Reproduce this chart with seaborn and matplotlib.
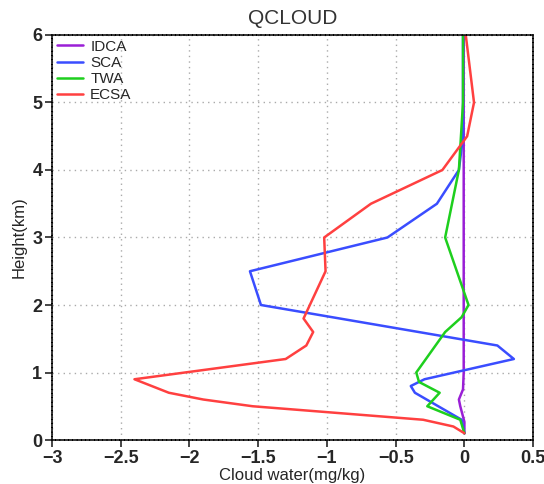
import matplotlib
matplotlib.use("Agg")
import matplotlib.pyplot as plt
import seaborn as sns
import pandas as pd

# Vertical profiles of cloud water difference (mg/kg) against height (km)
idca_h = [0.1, 0.27, 0.5, 0.6, 0.75, 1.0, 2.0, 3.0, 4.0, 5.0, 6.0]
idca_q = [0.0, 0.0, -0.03, -0.04, -0.01, -0.005, -0.005, -0.005, -0.005, -0.005, -0.005]

sca_h = [0.1, 0.3, 0.7, 0.8, 0.9, 1.2, 1.4, 2.0, 2.5, 3.0, 3.5, 4.0, 4.5, 5.0, 6.0]
sca_q = [0.0, -0.02, -0.36, -0.39, -0.29, 0.36, 0.24, -1.48, -1.56, -0.56, -0.2, -0.04, -0.01, -0.01, -0.01]

twa_h = [0.1, 0.3, 0.5, 0.7, 0.86, 1.0, 1.6, 1.82, 2.0, 3.0, 4.0, 5.0, 6.0]
twa_q = [0.0, -0.03, -0.27, -0.18, -0.33, -0.35, -0.14, -0.02, 0.03, -0.14, -0.04, -0.01, -0.01]

ecsa_h = [0.1, 0.2, 0.3, 0.5, 0.6, 0.7, 0.9, 1.2, 1.4, 1.6, 1.8, 2.5, 3.0, 3.5, 4.0, 4.5, 5.0, 6.0]
ecsa_q = [0.0, -0.08, -0.3, -1.54, -1.9, -2.15, -2.4, -1.3, -1.15, -1.1, -1.17, -1.01, -1.02, -0.68, -0.16, 0.02, 0.07, 0.01]

series = ["IDCA", "SCA", "TWA", "ECSA"]
colors = ["#9a1fd6", "#3a4dff", "#1ecf1e", "#ff4040"]

x_ticks = [-3, -2.5, -2, -1.5, -1, -0.5, 0, 0.5]
y_ticks = [0, 1, 2, 3, 4, 5, 6]

frames = []
for name, h, q in zip(series, [idca_h, sca_h, twa_h, ecsa_h], [idca_q, sca_q, twa_q, ecsa_q]):
    frames.append(pd.DataFrame({"height": h, "qcloud": q, "case": name}))
df = pd.concat(frames, ignore_index=True)

sns.set_style("ticks")
plt.rcParams["font.family"] = ["Liberation Sans", "DejaVu Sans"]

fig = plt.figure(figsize=(5.44, 4.84), dpi=100)
ax = fig.add_axes([0.0956, 0.0909, 0.8844, 0.8368])

sns.lineplot(data=df, x="qcloud", y="height", hue="case", hue_order=series,
             palette=colors, sort=False, estimator=None, linewidth=1.8, ax=ax)

ax.set_xlim(-3, 0.5)
ax.set_ylim(0, 6)
ax.set_xticks(x_ticks)
ax.set_yticks(y_ticks)
ax.set_xticklabels([("\u2212" + f"{abs(v):g}") if v < 0 else f"{v:g}" for v in x_ticks])
ax.set_yticklabels([f"{v:g}" for v in y_ticks])
ax.tick_params(axis="both", direction="out", length=5, width=1.2, labelsize=13, pad=2)
for lbl in ax.get_xticklabels() + ax.get_yticklabels():
    lbl.set_fontweight("bold")

ax.grid(True, linestyle=(0, (1, 3)), color="#aaaaaa", linewidth=1.0)
for side in ["left", "right", "top", "bottom"]:
    ax.spines[side].set_visible(True)
    ax.spines[side].set_linestyle((0, (2, 0.8)))
    ax.spines[side].set_linewidth(1.1)
    ax.spines[side].set_color("black")

ax.set_xlabel("Cloud water(mg/kg)", fontsize=12, labelpad=1)
ax.set_ylabel("Height(km)", fontsize=12, labelpad=4)
ax.set_title("QCLOUD", fontsize=15, color="#333333", pad=8)

leg = ax.legend(loc="upper left", frameon=False, fontsize=11, handlelength=1.7,
                handletextpad=0.5, labelspacing=0.15, borderaxespad=0.1,
                borderpad=0.2, title=None)
for line in leg.get_lines():
    line.set_linewidth(1.8)

fig.savefig("out.png", dpi=100)
